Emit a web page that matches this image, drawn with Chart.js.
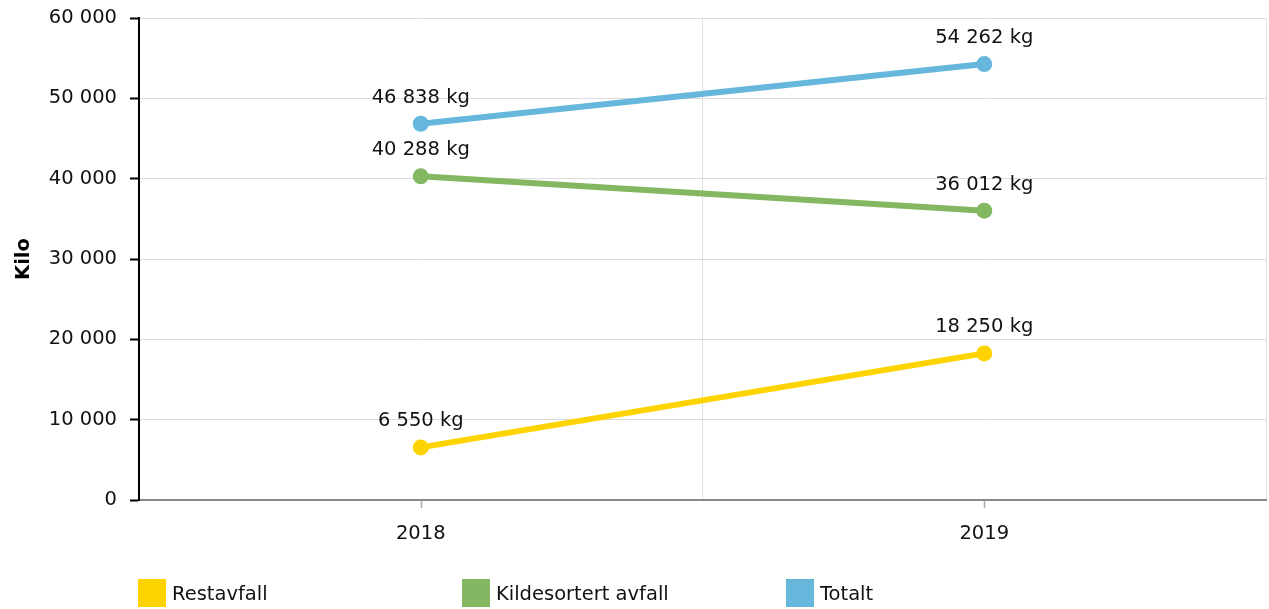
<!DOCTYPE html>
<html>
<head>
<meta charset="utf-8">
<script src="https://cdn.jsdelivr.net/npm/chart.js@4/dist/chart.umd.min.js"></script>
<style>
  html, body { margin: 0; padding: 0; background: #fff; }
  #wrap { position: relative; width: 1269px; height: 609px; }
  #legend { position: absolute; left: 138px; top: 579px; height: 28px; font-family: "DejaVu Sans", Verdana, sans-serif; font-size: 19.5px; color: #111; }
  .item { position: absolute; top: 0; height: 28px; display: flex; align-items: center; white-space: nowrap; }
  .box { width: 28px; height: 28px; margin-right: 6px; }
</style>
</head>
<body>
<div id="wrap">
  <canvas id="c" width="1269" height="609"></canvas>
  <div id="legend"></div>
</div>
<script>
const categories = ['2018', '2019'];
const seriesNames = ['Restavfall', 'Kildesortert avfall', 'Totalt'];
const restavfall = [6550, 18250];
const kildesortert = [40288, 36012];
const totalt = [46838, 54262];
const seriesColors = ['#fdd400', '#84b761', '#67b7dc'];
const yTicks = [0, 10000, 20000, 30000, 40000, 50000, 60000];
const yTitle = 'Kilo';
const unit = 'kg';

const FONT = '"DejaVu Sans", Verdana, sans-serif';
const FS = 19.5;
const fmt = v => String(v).replace(/\B(?=(\d{3})+(?!\d))/g, ' ');

const seriesData = [restavfall, kildesortert, totalt];
const datasets = seriesNames.map((n, i) => ({
  label: n,
  data: seriesData[i],
  borderColor: seriesColors[i],
  backgroundColor: seriesColors[i],
  borderWidth: 6,
  pointRadius: 8,
  pointHoverRadius: 8,
  pointBorderWidth: 0,
  pointBackgroundColor: seriesColors[i],
  tension: 0
}));

const labelPlugin = {
  id: 'labels',
  afterDatasetsDraw(chart) {
    const ctx = chart.ctx;
    ctx.save();
    ctx.font = FS + 'px ' + FONT;
    ctx.fillStyle = '#111';
    ctx.textAlign = 'center';
    ctx.textBaseline = 'middle';
    chart.data.datasets.forEach((ds, di) => {
      chart.getDatasetMeta(di).data.forEach((pt, i) => {
        ctx.fillText(fmt(ds.data[i]) + ' ' + unit, pt.x, pt.y - 26);
      });
    });
    ctx.restore();
  }
};

const xTickPlugin = {
  id: 'xticks',
  afterDraw(chart) {
    const x = chart.scales.x, ctx = chart.ctx;
    ctx.save();
    ctx.strokeStyle = '#aaa';
    ctx.lineWidth = 1.5;
    categories.forEach((c, i) => {
      const px = Math.round(x.getPixelForValue(i)) + 0.5;
      ctx.beginPath();
      ctx.moveTo(px, x.top + 1);
      ctx.lineTo(px, x.top + 8);
      ctx.stroke();
    });
    ctx.restore();
  }
};

new Chart(document.getElementById('c'), {
  type: 'line',
  data: { labels: categories, datasets },
  plugins: [labelPlugin, xTickPlugin],
  options: {
    responsive: false,
    animation: false,
    events: [],
    layout: { autoPadding: false, padding: { top: 18, right: 3, left: 0, bottom: 0 } },
    plugins: { legend: { display: false }, tooltip: { enabled: false } },
    scales: {
      x: {
        offset: true,
        grid: { offset: true, color: '#e0e0e0', lineWidth: 1, drawTicks: false },
        border: { color: '#888', width: 2 },
        ticks: { font: { family: FONT, size: FS }, color: '#111', padding: 22 },
        afterFit(s) { s.height = 109; s.paddingLeft = 0; s.paddingRight = 0; }
      },
      y: {
        min: 0, max: 60000,
        afterBuildTicks(s) { s.ticks = yTicks.map(v => ({ value: v })); },
        grid: { color: '#dcdcdc', lineWidth: 1, tickColor: '#000', tickLength: 9, tickWidth: 2 },
        border: { color: '#000', width: 2 },
        ticks: { font: { family: FONT, size: FS }, color: '#111', padding: 13, callback: v => fmt(v) },
        title: { display: true, text: yTitle, font: { family: FONT, size: FS, weight: 'bold' }, color: '#000', padding: { top: 12, bottom: 0 } },
        afterFit(s) { s.width = 139; s.paddingTop = 0; s.paddingBottom = 0; }
      }
    }
  }
});

const legend = document.getElementById('legend');
seriesNames.forEach((n, i) => {
  const it = document.createElement('div');
  it.className = 'item';
  it.style.left = (i * 324) + 'px';
  const b = document.createElement('div');
  b.className = 'box';
  b.style.background = seriesColors[i];
  const t = document.createElement('span');
  t.textContent = n;
  it.appendChild(b); it.appendChild(t);
  legend.appendChild(it);
});
</script>
</body>
</html>
